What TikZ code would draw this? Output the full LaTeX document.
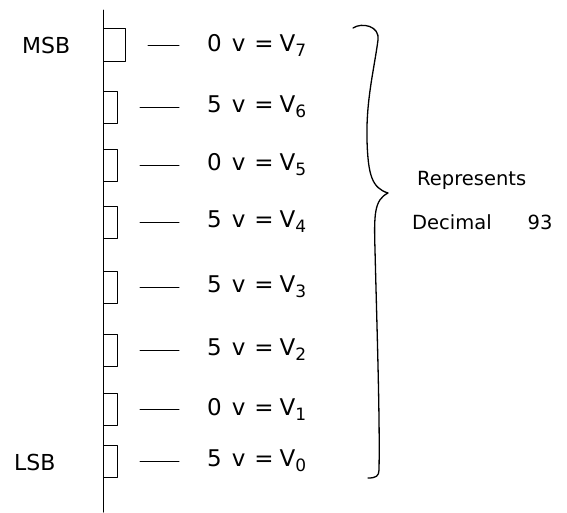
\documentclass[tikz,border=0pt]{standalone}
\usepackage{fontspec}
\setsansfont{DejaVu Sans}
\newcommand\rowtxt[2]{#1\hspace{10pt}v\hspace{9pt}=\hspace{6pt}V\raisebox{-5pt}{\fontsize{17}{19}\selectfont #2}}
\begin{document}
\begin{tikzpicture}[x=1pt,y=1pt,line cap=round,line join=round,
  pin/.style={draw,line width=1pt,minimum width=14pt,minimum height=32pt,inner sep=0pt,anchor=west},
  val/.style={anchor=west,inner sep=0pt,font=\sffamily\fontsize{23}{26}\selectfont},
  lbl/.style={anchor=west,inner sep=0pt,font=\sffamily\fontsize{22}{25}\selectfont},
  note/.style={anchor=west,inner sep=0pt,font=\sffamily\fontsize{19.5}{22}\selectfont},
  dashln/.style={line width=1pt,shorten <=22pt,shorten >=28pt}]
\useasboundingbox (0,0) rectangle (567,-512);
% bus line
\coordinate (top) at (103,-10);
\coordinate (bot) at (103,-512);
\draw[line width=1pt] (top) -- (bot);
% pins and values
\node[pin,minimum width=22pt,minimum height=33pt] (b7) at (103,-45) {};
\node[val] (t7) at (207,-45) {\rowtxt{0}{7}};
\foreach \i/\y/\v in {6/107/5,5/165/0,4/222/5,3/287/5,2/350/5,1/409/0,0/461/5}{
  \node[pin] (b\i) at (103,-\y) {};
  \node[val] (t\i) at (207,-\y) {\rowtxt{\v}{\i}};
}
\foreach \i in {0,...,7}{
  \draw[dashln] (b\i.east) -- (t\i.west);
}
% side labels
\node[lbl] (msb) at (22,-45) {MSB};
\node[lbl] (lsb) at (14,-462) {LSB};
% brace
\draw[line width=1.3pt] (353,-28) .. controls (362,-22) and (380,-26) .. (378,-40)
  .. controls (374,-70) and (366,-100) .. (367,-140)
  .. controls (368,-175) and (372,-188) .. (388,-193)
  .. controls (374,-200) and (374,-215) .. (375,-250)
  .. controls (377,-330) and (380,-420) .. (379,-470)
  .. controls (379,-476) and (376,-478) .. (368,-478);
% note
\node[note] (rep) at (417,-180) {Represents};
\node[note] (dec) at (412,-222) {Decimal\hspace{36pt}93};
\end{tikzpicture}
\end{document}
